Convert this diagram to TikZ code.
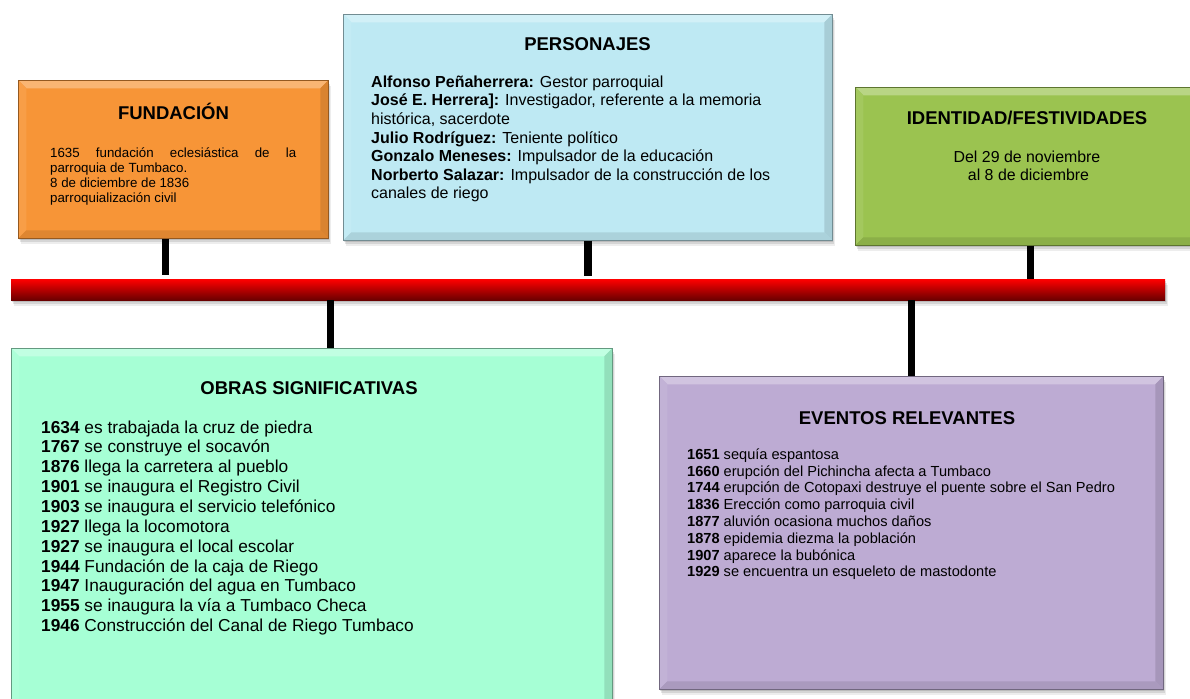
\documentclass[tikz,border=0pt]{standalone}
\usepackage{fontspec}
\setmainfont{Liberation Sans}
\usetikzlibrary{shadows,calc}
\definecolor{cOrange}{RGB}{247,149,55}
\definecolor{cBlue}{RGB}{190,233,243}
\definecolor{cGreen}{RGB}{155,195,80}
\definecolor{cMint}{RGB}{166,255,213}
\definecolor{cPurple}{RGB}{189,171,211}
\definecolor{cDarkRed}{RGB}{105,0,0}
\tikzset{
  softshadow/.style={
    drop shadow={shadow xshift=1pt, shadow yshift=-2pt, opacity=0.12, fill=black},
    drop shadow={shadow xshift=2pt, shadow yshift=-4pt, opacity=0.10, fill=black},
    drop shadow={shadow xshift=3pt, shadow yshift=-6pt, opacity=0.07, fill=black}},
  bevelbox/.style={draw=#1!60!black, line width=0.6pt, fill=#1, inner sep=0pt,
    anchor=north west, softshadow,
    path picture={
      \coordinate (bnw) at (path picture bounding box.north west);
      \coordinate (bne) at (path picture bounding box.north east);
      \coordinate (bse) at (path picture bounding box.south east);
      \coordinate (bsw) at (path picture bounding box.south west);
      \fill[#1!70!white] (bnw) -- (bne) -- ($(bne)+(-8pt,-8pt)$) -- ($(bnw)+(8pt,-8pt)$) -- cycle;
      \fill[#1!92!white] (bnw) -- (bsw) -- ($(bsw)+(8pt,8pt)$) -- ($(bnw)+(8pt,-8pt)$) -- cycle;
      \fill[#1!90!black] (bsw) -- (bse) -- ($(bse)+(-8pt,8pt)$) -- ($(bsw)+(8pt,8pt)$) -- cycle;
      \fill[#1!88!black] (bne) -- (bse) -- ($(bse)+(-8pt,8pt)$) -- ($(bne)+(-8pt,-8pt)$) -- cycle;
    }},
  barstyle/.style={inner sep=0pt, anchor=north west, top color=red, middle color=red,
    bottom color=cDarkRed, softshadow},
  conn/.style={line width=7.5pt, black},
  boxtitle/.style={font=\fontsize{18.5}{22}\selectfont\bfseries, anchor=base, inner sep=0pt},
  fundtxt/.style={font=\fontsize{13.3}{15}\selectfont, anchor=base west, inner sep=0pt},
  perstxt/.style={font=\fontsize{16}{18.5}\selectfont, anchor=base west, inner sep=0pt},
  identtxt/.style={font=\fontsize{15.9}{19}\selectfont, anchor=base, inner sep=0pt},
  obtxt/.style={font=\fontsize{17.3}{20}\selectfont, anchor=base west, inner sep=0pt},
  evtxt/.style={font=\fontsize{14.6}{17}\selectfont, anchor=base west, inner sep=0pt},
}
\begin{document}
\begin{tikzpicture}[x=1pt,y=-1pt]
\useasboundingbox (0,0) rectangle (1190,698);
\clip (0,0) rectangle (1190,698);

% timeline bar
\node[barstyle, minimum width=1154pt, minimum height=21pt] (bar) at (11,279) {};

% boxes
\node[bevelbox=cOrange, minimum width=310pt, minimum height=158pt] (fund) at (18,80) {};
\node[bevelbox=cBlue, minimum width=489pt, minimum height=226pt] (pers) at (343,14) {};
\node[bevelbox=cGreen, minimum width=344pt, minimum height=158pt] (ident) at (855,87) {};
\node[bevelbox=cMint, minimum width=601pt, minimum height=360pt] (obras) at (11,348) {};
\node[bevelbox=cPurple, minimum width=504pt, minimum height=313pt] (event) at (659,376) {};

% connectors
\draw[conn] ($(fund.south)+(-8pt,0)$) -- ($(fund.south |- bar.north)+(-8pt,4pt)$);
\draw[conn] (pers.south) -- ($(pers.south |- bar.north)+(0,3pt)$);
\draw[conn] ($(ident.south)+(3pt,0)$) -- ($(ident.south |- bar.north)+(3pt,0)$);
\draw[conn] ($(obras.north |- bar.south)+(18.5pt,0)$) -- ($(obras.north)+(18.5pt,0)$);
\draw[conn] (event.north |- bar.south) -- (event.north);

% FUNDACION
\node[boxtitle] (fund-t) at (173.5,119.5) {FUNDACIÓN};
\node[fundtxt] (fund-1) at (50,157.5) {\makebox[246pt][s]{1635 fundación eclesiástica de la}};
\node[fundtxt] (fund-2) at (50,172.5) {parroquia de Tumbaco.};
\node[fundtxt] (fund-3) at (50,187.5) {8 de diciembre de 1836};
\node[fundtxt] (fund-4) at (50,202.5) {parroquialización civil};

% PERSONAJES
\node[boxtitle] (pers-t) at (587.5,50.5) {PERSONAJES};
\foreach \t [count=\i] in {
  {\textbf{Alfonso Peñaherrera:} Gestor parroquial},
  {\textbf{José E. Herrera]:} Investigador, referente a la memoria},
  {histórica, sacerdote},
  {\textbf{Julio Rodríguez:} Teniente político},
  {\textbf{Gonzalo Meneses:} Impulsador de la educación},
  {\textbf{Norberto Salazar:} Impulsador de la construcción de los},
  {canales de riego}}
  \node[perstxt] (pers-\i) at (371,{87.5+18.5*(\i-1)}) {\t};

% IDENTIDAD
\node[boxtitle] (ident-t) at (1027,124.8) {IDENTIDAD/FESTIVIDADES};
\node[identtxt] (ident-1) at (1027,162) {Del 29 de noviembre};
\node[identtxt] (ident-2) at (1028.5,180.5) {al 8 de diciembre};

% OBRAS
\node[boxtitle] (obras-t) at (309,394.8) {OBRAS SIGNIFICATIVAS};
\foreach \yr/\tx [count=\i] in {
  1634/es trabajada la cruz de piedra,
  1767/se construye el socavón,
  1876/llega la carretera al pueblo,
  1901/se inaugura el Registro Civil,
  1903/se inaugura el servicio telefónico,
  1927/llega la locomotora,
  1927/se inaugura el local escolar,
  1944/Fundación de la caja de Riego,
  1947/Inauguración del agua en Tumbaco,
  1955/se inaugura la vía a Tumbaco Checa,
  1946/Construcción del Canal de Riego Tumbaco}
  \node[obtxt] (obras-\i) at (41,{433+19.87*(\i-1)}) {\textbf{\yr} \tx};

% EVENTOS
\node[boxtitle] (event-t) at (907,424.8) {EVENTOS RELEVANTES};
\foreach \yr/\tx [count=\i] in {
  1651/sequía espantosa,
  1660/erupción del Pichincha afecta a Tumbaco,
  1744/erupción de Cotopaxi destruye el puente sobre el San Pedro,
  1836/Erección como parroquia civil,
  1877/aluvión ocasiona muchos daños,
  1878/epidemia diezma la población,
  1907/aparece la bubónica,
  1929/se encuentra un esqueleto de mastodonte}
  \node[evtxt] (event-\i) at (687,{459.3+16.8*(\i-1)}) {\textbf{\yr} \tx};
\end{tikzpicture}
\end{document}
